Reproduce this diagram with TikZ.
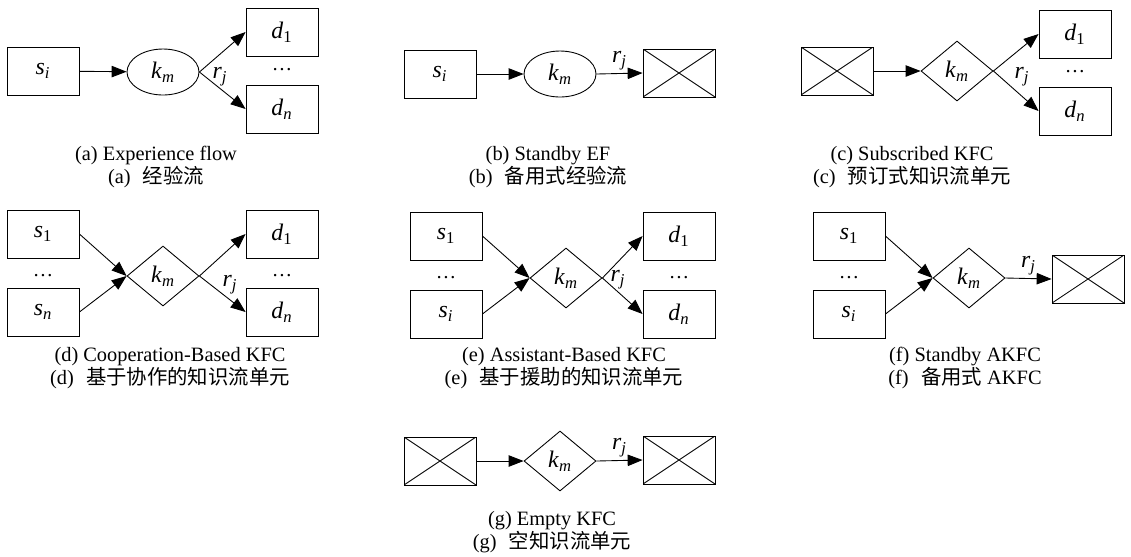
\documentclass[tikz,border=0pt]{standalone}
\usepackage{fontspec}
\setmainfont{Liberation Serif}
\newfontfamily\cjk{Noto Sans CJK SC}
\usepackage{tikz}
\usetikzlibrary{positioning,arrows.meta,shapes.geometric}

% letra con subindice, en cursiva como en la figura
\newcommand{\etq}[2]{\textit{#1}\textsubscript{#2}}

\begin{document}
\begin{tikzpicture}[
      x=0.02cm, y=-0.02cm,
      font=\fontsize{11.6}{11.6}\selectfont,
      caja/.style={draw, line width=0.5pt, minimum width=1.44cm, minimum height=0.96cm, inner sep=0pt,
                   font=\fontsize{13.5}{14}\selectfont},
      cruz/.style={caja, path picture={\draw[line width=0.5pt]
                   (path picture bounding box.north west) -- (path picture bounding box.south east)
                   (path picture bounding box.south west) -- (path picture bounding box.north east);}},
      elipse/.style={ellipse, draw, line width=0.5pt, minimum width=1.44cm, minimum height=0.92cm, inner sep=0pt,
                     font=\fontsize{13.5}{14}\selectfont},
      rombo/.style={diamond, draw, line width=0.5pt, minimum width=1.44cm, minimum height=1.2cm, inner sep=0pt,
                    font=\fontsize{13.5}{14}\selectfont},
      etiqueta/.style={font=\fontsize{13.5}{14}\selectfont, inner sep=2pt},
      flecha/.style={-{Triangle[length=8.5pt, width=6.5pt]}, line width=0.5pt},
      pie/.style={align=center, inner sep=0pt}]
    \useasboundingbox (0,0) rectangle (1131,556);
    % (a)
    \node[caja] (a-s) at (43,71) {\etq{s}{\textit{i}}};
    \node[elipse] (a-k) at (163,72) {\etq{k}{\textit{m}}};
    \node[caja] (a-d1) at (282,32) {\etq{d}{1}};
    \node[caja] (a-dn) at (282,109) {\etq{d}{\textit{n}}};
    \node (a-pt) at (282,70) {\dots};
    \node[etiqueta] (a-r) at (220,77) {\etq{r}{\textit{j}}};
    \draw[flecha] (a-s) -- (a-k);
    \draw[flecha] (a-k.east) -- (a-d1.west);
    \draw[flecha] (a-k.east) -- (a-dn.west);
    \node[pie] (a-pie) at (156,167) {(a) Experience flow\\(a)\hspace{0.6em}{\cjk 经验流}};
    % (b)
    \node[caja] (b-s) at (440,74) {\etq{s}{\textit{i}}};
    \node[elipse] (b-k) at (560,74) {\etq{k}{\textit{m}}};
    \node[cruz] (b-x) at (679,73) {};
    \draw[flecha] (b-s) -- (b-k);
    \draw[flecha] (b-k.east) -- node[etiqueta, above] (b-r) {\etq{r}{\textit{j}}} (b-x.west);
    \node[pie] (b-pie) at (548,167) {(b) Standby EF\\(b)\hspace{0.6em}{\cjk 备用式经验流}};
    % (c)
    \node[cruz] (c-x) at (837,71) {};
    \node[rombo] (c-k) at (957,71) {\etq{k}{\textit{m}}};
    \node[caja] (c-d1) at (1075,34) {\etq{d}{1}};
    \node[caja] (c-dn) at (1075,111) {\etq{d}{\textit{n}}};
    \node (c-pt) at (1075,72) {\dots};
    \node[etiqueta] (c-r) at (1022,77) {\etq{r}{\textit{j}}};
    \draw[flecha] (c-x) -- (c-k);
    \draw[flecha] (c-k.east) -- (c-d1.west);
    \draw[flecha] (c-k.east) -- (c-dn.west);
    \node[pie] (c-pie) at (912,167) {(c) Subscribed KFC\\(c)\hspace{0.6em}{\cjk 预订式知识流单元}};
    % (d)
    \node[caja] (d-s1) at (43,234) {\etq{s}{1}};
    \node[caja] (d-sn) at (43,312) {\etq{s}{\textit{n}}};
    \node (d-pt1) at (43,276) {\dots};
    \node[rombo] (d-k) at (163,276) {\etq{k}{\textit{m}}};
    \node[caja] (d-d1) at (282,234) {\etq{d}{1}};
    \node[caja] (d-dn) at (282,312) {\etq{d}{\textit{n}}};
    \node (d-pt2) at (282,276) {\dots};
    \node[etiqueta] (d-r) at (230,285) {\etq{r}{\textit{j}}};
    \draw[flecha] (d-s1.east) -- (d-k.west);
    \draw[flecha] (d-sn.east) -- (d-k.west);
    \draw[flecha] (d-k.east) -- (d-d1.west);
    \draw[flecha] (d-k.east) -- (d-dn.west);
    \node[pie] (d-pie) at (170,368) {(d) Cooperation-Based KFC\\(d)\hspace{0.6em}{\cjk 基于协作的知识流单元}};
    % (e)
    \node[caja] (e-s1) at (446,236) {\etq{s}{1}};
    \node[caja] (e-si) at (446,314) {\etq{s}{\textit{i}}};
    \node (e-pt1) at (446,278) {\dots};
    \node[rombo] (e-k) at (566,278) {\etq{k}{\textit{m}}};
    \node[caja] (e-d1) at (679,236) {\etq{d}{1}};
    \node[caja] (e-dn) at (679,314) {\etq{d}{\textit{n}}};
    \node (e-pt2) at (679,278) {\dots};
    \node[etiqueta] (e-r) at (618,280) {\etq{r}{\textit{j}}};
    \draw[flecha] (e-s1.east) -- (e-k.west);
    \draw[flecha] (e-si.east) -- (e-k.west);
    \draw[flecha] (e-k.east) -- (e-d1.west);
    \draw[flecha] (e-k.east) -- (e-dn.west);
    \node[pie] (e-pie) at (564,368) {(e) Assistant-Based KFC\\(e)\hspace{0.6em}{\cjk 基于援助的知识流单元}};
    % (f)
    \node[caja] (f-s1) at (849,236) {\etq{s}{1}};
    \node[caja] (f-si) at (849,314) {\etq{s}{\textit{i}}};
    \node (f-pt) at (849,278) {\dots};
    \node[rombo] (f-k) at (969,278) {\etq{k}{\textit{m}}};
    \node[cruz] (f-x) at (1088,279) {};
    \draw[flecha] (f-s1.east) -- (f-k.west);
    \draw[flecha] (f-si.east) -- (f-k.west);
    \draw[flecha] (f-k.east) -- node[etiqueta, above] (f-r) {\etq{r}{\textit{j}}} (f-x.west);
    \node[pie] (f-pie) at (965,368) {(f) Standby AKFC\\(f)\hspace{0.6em}{\cjk 备用式} AKFC};
    % (g)
    \node[cruz] (g-x1) at (440,461) {};
    \node[rombo] (g-k) at (560,461) {\etq{k}{\textit{m}}};
    \node[cruz] (g-x2) at (679,460) {};
    \draw[flecha] (g-x1) -- (g-k);
    \draw[flecha] (g-k.east) -- node[etiqueta, above] (g-r) {\etq{r}{\textit{j}}} (g-x2.west);
    \node[pie] (g-pie) at (552,532) {(g) Empty KFC\\(g)\hspace{0.6em}{\cjk 空知识流单元}};
  \end{tikzpicture}
\end{document}
